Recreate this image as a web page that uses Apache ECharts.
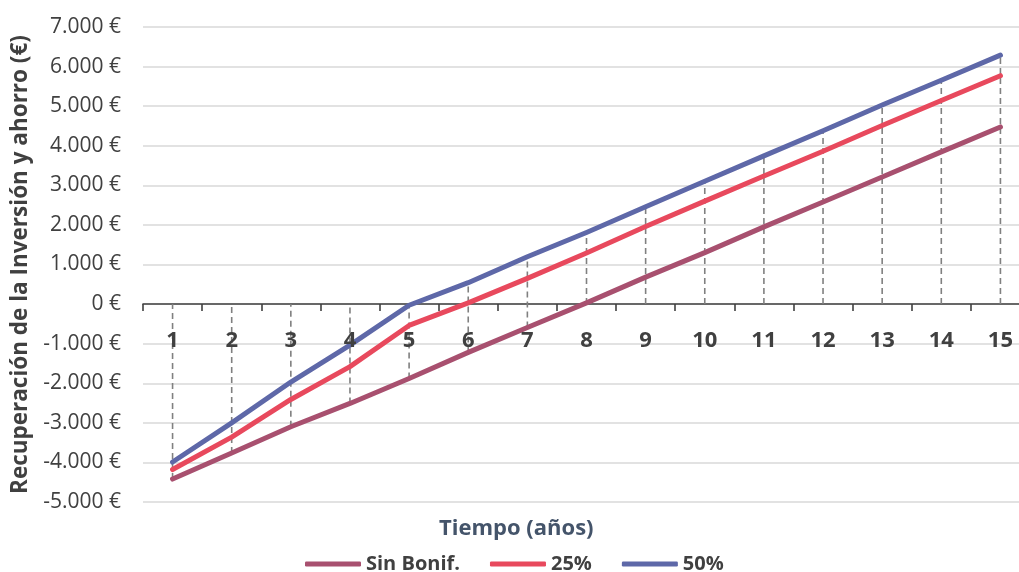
<!DOCTYPE html>
<html>
<head>
<meta charset="utf-8">
<script src="https://cdn.jsdelivr.net/npm/echarts@6/dist/echarts.min.js"></script>
<style>html,body{margin:0;padding:0;background:#fff}#c{width:1019px;height:572px}</style>
</head>
<body>
<div id="c"></div>
<script>
var categories = ['1','2','3','4','5','6','7','8','9','10','11','12','13','14','15'];
var sinBonif = [-4420,-3760,-3100,-2510,-1880,-1220,-590,30,680,1300,1950,2580,3210,3845,4475];
var bonif25 = [-4180,-3360,-2410,-1580,-540,30,650,1290,1960,2600,3235,3860,4510,5145,5770];
var bonif50 = [-3990,-3000,-1970,-1035,-30,540,1195,1810,2460,3105,3745,4380,5030,5655,6290];
var seriesNames = ['Sin Bonif.','25%','50%'];
var yTicks = {min:-5000, max:7000, interval:1000};

var FONT = '"Open Sans", sans-serif';
var colors = ['#A8506F','#E8495D','#5E68A8'];
var allSeries = [sinBonif, bonif25, bonif50];

var drops = categories.map(function(c, i){
  var vals = allSeries.map(function(s){return s[i];});
  return [i, Math.min(0, Math.min.apply(null, vals)), Math.max(0, Math.max.apply(null, vals))];
});
var catLabelData = categories.map(function(c, i){ return [i, 0]; });

function fmt(v){
  var s = Math.abs(v).toString().replace(/\B(?=(\d{3})+(?!\d))/g, '.');
  return (v < 0 ? '-' : '') + s + ' €';
}

var chart = echarts.init(document.getElementById('c'));
var series = [{
  type:'custom',
  silent:true,
  z:1,
  data:drops,
  renderItem:function(params, api){
    var p1 = api.coord([api.value(0), api.value(1)]);
    var p2 = api.coord([api.value(0), api.value(2)]);
    return {type:'line', shape:{x1:p1[0],y1:p1[1],x2:p2[0],y2:p2[1]},
      style:{stroke:'#808080', lineWidth:1.6, lineDash:[6,4], fill:null}};
  }
}, {
  type:'custom',
  silent:true,
  z:5,
  data:catLabelData,
  renderItem:function(params, api){
    var p = api.coord([api.value(0), api.value(1)]);
    return {type:'text', x:p[0], y:p[1] + 37,
      style:{text:categories[params.dataIndex], fontFamily:FONT, fontWeight:'bold', fontSize:22,
        fill:'#404040', align:'center', verticalAlign:'middle'}};
  }
}];
allSeries.forEach(function(s, k){
  series.push({
    name:seriesNames[k], type:'line', data:s, z:3,
    showSymbol:false, symbol:'none',
    lineStyle:{width:5, color:colors[k], cap:'round', join:'round'},
    itemStyle:{color:colors[k]}
  });
});

chart.setOption({
  animation:false,
  backgroundColor:'#fff',
  grid:{left:143, width:887, top:27, bottom:70, outerBoundsMode:'none', containLabel:false},
  legend:{
    data:seriesNames, top:549, left:300, icon:'roundRect',
    itemWidth:56, itemHeight:5, itemGap:30,
    textStyle:{fontFamily:FONT, fontWeight:'bold', fontSize:20, color:'#404040'}
  },
  graphic:[{
    type:'text', left:439, top:518,
    style:{text:'Tiempo (años)', fontFamily:FONT, fontWeight:'bold', fontSize:22, fill:'#44546A'}
  }],
  xAxis:{
    type:'category', data:categories, boundaryGap:true,
    axisLine:{onZero:true, lineStyle:{color:'#404040', width:1.6}},
    axisTick:{show:true, interval:0, length:7, lineStyle:{color:'#404040', width:1.6}},
    axisLabel:{show:false},
    splitLine:{show:false}
  },
  yAxis:{
    type:'value', min:yTicks.min, max:yTicks.max, interval:yTicks.interval,
    name:'Recuperación de la Inversión y ahorro (€)',
    nameLocation:'middle', nameGap:108, nameRotate:90,
    nameTextStyle:{fontFamily:FONT, fontWeight:'bold', fontSize:22.5, color:'#404040'},
    axisLine:{show:false}, axisTick:{show:false},
    axisLabel:{formatter:fmt, margin:22, fontFamily:FONT, fontSize:21, color:'#404040'},
    splitLine:{lineStyle:{color:'#D9D9D9', width:1.6}}
  },
  series:series
});
</script>
</body>
</html>
